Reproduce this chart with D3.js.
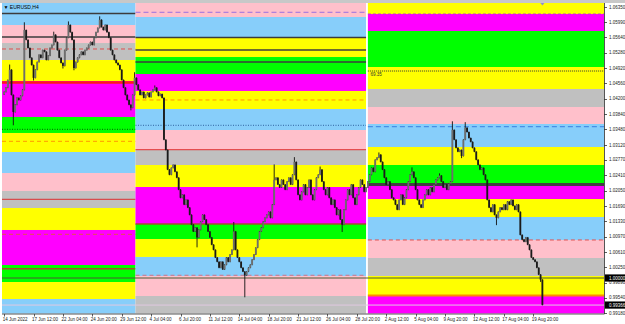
<!DOCTYPE html>
<html>
<head>
<meta charset="utf-8">
<script src="https://cdn.jsdelivr.net/npm/d3@7"></script>
<style>
body{margin:0;background:#fff;}
svg{display:block;font-family:"Liberation Sans",Arial,sans-serif;}
</style>
</head>
<body>
<script>
// EURUSD H4 closes, one per bar
const closes = [
 1.0436,1.0446,1.0464,1.0488,1.0429,1.0389,1.0406,1.0422,1.0417,1.0427,
 1.0441,1.0581,1.0558,1.0539,1.0516,1.0499,1.0469,1.0488,1.0506,1.0523,
 1.0516,1.0534,1.0530,1.0511,1.0521,1.0539,1.0546,1.0570,1.0553,1.0534,
 1.0516,1.0504,1.0497,1.0534,1.0563,1.0593,1.0576,1.0558,1.0492,1.0506,
 1.0516,1.0523,1.0530,1.0523,1.0534,1.0539,1.0546,1.0553,1.0546,1.0563,
 1.0576,1.0586,1.0605,1.0588,1.0581,1.0593,1.0576,1.0563,1.0534,1.0523,
 1.0511,1.0504,1.0499,1.0488,1.0464,1.0446,1.0429,1.0417,1.0406,1.0399,
 1.0429,1.0469,1.0453,1.0441,1.0429,1.0436,1.0422,1.0429,1.0434,1.0424,
 1.0436,1.0441,1.0446,1.0436,1.0427,1.0431,1.0422,1.0324,1.0300,1.0254,
 1.0242,1.0258,1.0265,1.0249,1.0235,1.0207,1.0188,1.0195,1.0172,1.0183,
 1.0165,1.0148,1.0125,1.0109,1.0118,1.0095,1.0113,1.0132,1.0148,1.0137,
 1.0125,1.0109,1.0095,1.0078,1.0066,1.0048,1.0038,1.0024,1.0038,1.0020,
 1.0031,1.0048,1.0038,1.0055,1.0066,1.0109,1.0066,1.0048,1.0038,1.0024,
 1.0015,1.0006,1.0015,1.0024,1.0031,1.0043,1.0055,1.0071,1.0090,1.0109,
 1.0118,1.0132,1.0141,1.0148,1.0155,1.0141,1.0172,1.0230,1.0235,1.0219,
 1.0212,1.0230,1.0219,1.0207,1.0226,1.0235,1.0219,1.0242,1.0272,1.0230,
 1.0195,1.0183,1.0202,1.0219,1.0195,1.0212,1.0230,1.0195,1.0183,1.0207,
 1.0235,1.0242,1.0254,1.0226,1.0207,1.0195,1.0212,1.0188,1.0172,1.0183,
 1.0165,1.0148,1.0160,1.0137,1.0125,1.0160,1.0183,1.0207,1.0195,1.0219,
 1.0188,1.0172,1.0195,1.0212,1.0230,1.0219,1.0202,1.0212,1.0226,1.0242,
 1.0258,1.0249,1.0277,1.0282,1.0289,1.0272,1.0254,1.0235,1.0219,1.0226,
 1.0207,1.0188,1.0183,1.0172,1.0160,1.0183,1.0195,1.0172,1.0188,1.0207,
 1.0226,1.0242,1.0249,1.0235,1.0207,1.0183,1.0172,1.0165,1.0183,1.0195,
 1.0207,1.0195,1.0212,1.0202,1.0219,1.0230,1.0235,1.0240,1.0226,1.0212,
 1.0219,1.0207,1.0221,1.0226,1.0347,1.0324,1.0305,1.0296,1.0300,1.0286,
 1.0324,1.0352,1.0342,1.0328,1.0319,1.0305,1.0296,1.0277,1.0265,1.0254,
 1.0258,1.0242,1.0230,1.0183,1.0165,1.0155,1.0172,1.0148,1.0141,1.0155,
 1.0165,1.0160,1.0172,1.0160,1.0179,1.0172,1.0183,1.0169,1.0160,1.0172,
 1.0155,1.0101,1.0090,1.0085,1.0095,1.0078,1.0066,1.0048,1.0043,1.0038,
 1.0024,1.0008,0.9996,0.9937
];
const firstOpen = 1.0430;

// long wicks [bar, price]
const highWicks = [[3,1.0499],[11,1.0598],[27,1.0576],[35,1.0600],[52,1.0612],[71,1.0481],[82,1.0450],
  [125,1.0130],[147,1.0265],[158,1.0282],[172,1.0260],[204,1.0293],[222,1.0258],[237,1.0244],[244,1.0366],[251,1.0364]];
const lowWicks = [[5,1.0359],[16,1.0464],[32,1.0492],[38,1.0488],[69,1.0394],[105,1.0073],[131,0.9956],
  [184,1.0109],[249,1.0282],[268,1.0125],[292,0.9992]];

const dateLabels = ["14 Jun 2022","17 Jun 12:00","22 Jun 04:00","24 Jun 20:00","29 Jun 12:00","4 Jul 04:00",
  "6 Jul 20:00","11 Jul 12:00","14 Jul 04:00","18 Jul 20:00","21 Jul 12:00","26 Jul 04:00","28 Jul 20:00",
  "2 Aug 12:00","5 Aug 04:00","9 Aug 20:00","12 Aug 12:00","17 Aug 04:00","19 Aug 20:00"];
const barsPerLabel = 16;

const priceTicks = [1.06350,1.05990,1.05640,1.05280,1.04920,1.04560,1.04200,1.03840,1.03480,1.03120,
  1.02770,1.02410,1.02050,1.01690,1.01330,1.00970,1.00610,1.00250,0.99890,0.99540,0.99180];

// zones per month: [top, bottom, kind]
const junBands = [
  [1.0680,1.05928,"sky"],[1.05928,1.05506,"pink"],[1.05506,1.05108,"silver"],[1.05108,1.04616,"yellow"],
  [1.04616,1.03773,"magenta"],[1.03773,1.03398,"green"],[1.03398,1.02952,"yellow"],[1.02952,1.02460,"sky"],
  [1.02460,1.02039,"pink"],[1.02039,1.01640,"silver"],[1.01640,1.01125,"yellow"],[1.01125,1.00305,"magenta"],
  [1.00305,0.99906,"green"],[0.99906,0.99508,"yellow"],[0.99508,0.9890,"sky"]
];
const julBands = [
  [1.0680,1.06116,"pink"],[1.06116,1.05635,"sky"],[1.05635,1.05178,"yellow"],[1.05178,1.04780,"green"],
  [1.04780,1.04382,"magenta"],[1.04382,1.03960,"yellow"],[1.03960,1.03468,"sky"],[1.03468,1.02999,"pink"],
  [1.02999,1.02648,"silver"],[1.02648,1.02132,"yellow"],[1.02132,1.01265,"magenta"],[1.01265,1.00914,"green"],
  [1.00914,1.00493,"yellow"],[1.00493,1.00047,"sky"],[1.00047,0.99578,"pink"],[0.99578,0.9890,"silver"]
];
const augBands = [
  [1.0680,1.06186,"yellow"],[1.06186,1.05788,"magenta"],[1.05788,1.04944,"green"],[1.04944,1.04429,"yellow"],
  [1.04429,1.04007,"silver"],[1.04007,1.03609,"pink"],[1.03609,1.03070,"sky"],[1.03070,1.02648,"yellow"],
  [1.02648,1.02191,"green"],[1.02191,1.01851,"magenta"],[1.01851,1.01429,"yellow"],[1.01429,1.00891,"sky"],
  [1.00891,1.00469,"pink"],[1.00469,1.00047,"silver"],[1.00047,0.99578,"yellow"],[0.99578,0.9890,"magenta"]
];

// horizontal levels per month: [price, kind]
const junLines = [[1.06198,"dark"],[1.05647,"dark"],[1.05366,"redDash"],[1.04581,"redThick"],[1.03484,"greenDot"],
  [1.03203,"orangeDash"],[1.01844,"red"],[1.01024,"redDash"],[1.00218,"brown"]];
const julLines = [[1.06226,"purpleDash"],[1.05635,"dark"],[1.05342,"dark"],[1.05061,"dark"],[1.04171,"orangeDash"],
  [1.03578,"blueDot"],[1.03006,"red"],[1.01265,"brown"],[1.00064,"pinkDash"]];
const augLines = [[1.06186,"magentaDash"],[1.04850,"blackDot"],[1.03545,"blueDash"],[1.02191,"darkThick"],
  [1.00891,"redDash"],[0.99590,"orangeThick"]];

// month start bars: Jul at 72, Aug at 198
const monthStart = [0, 72, 198];
const levelPrice = 1.00000;
const bidPrice = 0.99366;
const augLevelText = "69.35";

const W = 625, H = 324;
const plotL = 2, plotR = 604, plotT = 3, plotB = 313.5;

const zoneColor = {sky:"#87cefa", pink:"#ffc0cb", silver:"#c0c0c0", yellow:"#ffff00", magenta:"#ff00ff", green:"#00ff00"};
const lineStyle = {
  dark:{c:"#3c3c3c", w:1.5}, redDash:{c:"#e05050", w:1, d:"4,3"}, redThick:{c:"#ff1a1a", w:2.5},
  greenDot:{c:"#006400", w:1, d:"1,1.5"}, orangeDash:{c:"#ff9900", w:1, d:"4,3"}, red:{c:"#dd3030", w:1},
  brown:{c:"#a0502a", w:1.5}, purpleDash:{c:"#9b70e0", w:1, d:"5,3"}, blueDot:{c:"#3060a0", w:1, d:"1,1.5"},
  pinkDash:{c:"#d87080", w:1, d:"4,3"}, magentaDash:{c:"#c040c0", w:1.2, d:"3,2"}, blackDot:{c:"#333", w:1, d:"1,1"},
  blueDash:{c:"#3a7ee0", w:1, d:"5,3"}, darkThick:{c:"#404040", w:3}, orangeThick:{c:"#ff8c00", w:2}
};

const x = d3.scaleLinear().domain([0, 293]).range([4.15, 542.4]);
const y = d3.scaleLinear().domain([0.99180, 1.06350]).range([313, 7]);

const svg = d3.select("body").append("svg").attr("width", W).attr("height", H);
svg.append("rect").attr("width", W).attr("height", H).attr("fill", "#fff");
svg.append("rect").attr("x", 0).attr("y", 0).attr("width", W).attr("height", plotT).attr("fill", "#c8c8c8");

svg.append("clipPath").attr("id", "plot").append("rect")
  .attr("x", plotL).attr("y", plotT).attr("width", plotR - plotL).attr("height", plotB - plotT);
const g = svg.append("g").attr("clip-path", "url(#plot)");

const sections = [
  {bands: junBands, lines: junLines, x0: plotL, x1: x(monthStart[1] - 0.5)},
  {bands: julBands, lines: julLines, x0: x(monthStart[1] - 0.5), x1: x(monthStart[2] - 1)},
  {bands: augBands, lines: augLines, x0: x(monthStart[2]), x1: plotR}
];

sections.forEach(s => {
  g.append("g").selectAll("rect").data(s.bands).join("rect")
    .attr("x", s.x0).attr("width", s.x1 - s.x0)
    .attr("y", d => y(d[0])).attr("height", d => y(d[1]) - y(d[0]))
    .attr("fill", d => zoneColor[d[2]]);
  g.append("g").selectAll("line").data(s.lines).join("line")
    .attr("x1", s.x0).attr("x2", s.x1)
    .attr("y1", d => y(d[0])).attr("y2", d => y(d[0]))
    .attr("stroke", d => lineStyle[d[1]].c)
    .attr("stroke-width", d => lineStyle[d[1]].w)
    .attr("stroke-dasharray", d => lineStyle[d[1]].d || null);
});

// whole-chart levels
g.append("line").attr("x1", plotL).attr("x2", plotR).attr("y1", y(levelPrice)).attr("y2", y(levelPrice))
  .attr("stroke", "#4d5a35").attr("stroke-width", 1);
g.append("line").attr("x1", plotL).attr("x2", plotR).attr("y1", y(bidPrice)).attr("y2", y(bidPrice))
  .attr("stroke", "#e0c8e0").attr("stroke-width", 1);

g.append("text").attr("x", x(monthStart[2]) + 2.5).attr("y", y(1.04850) + 5.2)
  .attr("font-size", 4.6).attr("fill", "#333").text(augLevelText);

// candles
const hiMap = new Map(highWicks), loMap = new Map(lowWicks);
const candles = closes.map((c, i) => {
  const o = i ? closes[i - 1] : firstOpen;
  let hi = Math.max(o, c), lo = Math.min(o, c);
  if (hiMap.has(i)) hi = Math.max(hi, hiMap.get(i));
  if (loMap.has(i)) lo = Math.min(lo, loMap.get(i));
  return {i, o, c, hi, lo};
});
const cg = g.append("g");
cg.selectAll("line").data(candles).join("line")
  .attr("x1", d => x(d.i)).attr("x2", d => x(d.i))
  .attr("y1", d => y(d.hi) - 0.5).attr("y2", d => y(d.lo) + 0.5)
  .attr("stroke", "#111").attr("stroke-width", 0.9);
cg.selectAll("rect").data(candles).join("rect")
  .attr("x", d => x(d.i) - 0.9).attr("width", 1.8)
  .attr("y", d => y(Math.max(d.o, d.c)))
  .attr("height", d => Math.max(0.8, y(Math.min(d.o, d.c)) - y(Math.max(d.o, d.c))))
  .attr("fill", d => d.c >= d.o ? "#6e6e6e" : "#1a1a1a");

// shift marker
svg.append("path").attr("d", `M${x(293) - 2},${plotT} h4 l-2,2.5z`).attr("fill", "#9090c8");

// frame
svg.append("line").attr("x1", plotL).attr("x2", plotR + 0.5).attr("y1", plotB + 0.5).attr("y2", plotB + 0.5)
  .attr("stroke", "#555").attr("stroke-width", 1);
svg.append("line").attr("x1", plotR + 0.5).attr("x2", plotR + 0.5).attr("y1", plotT).attr("y2", plotB + 0.5)
  .attr("stroke", "#555").attr("stroke-width", 1);

// title
svg.append("text").attr("x", 3.5).attr("y", 8.5).attr("font-size", 5).attr("fill", "#000").text("\u25BC EURUSD,H4");

// price axis
const pa = svg.append("g");
pa.selectAll("line").data(priceTicks).join("line")
  .attr("x1", plotR).attr("x2", plotR + 3).attr("y1", d => Math.round(y(d)) + 0.5).attr("y2", d => Math.round(y(d)) + 0.5)
  .attr("stroke", "#333").attr("stroke-width", 0.8);
pa.selectAll("text").data(priceTicks).join("text")
  .attr("x", plotR + 5).attr("y", d => y(d) + 1.7)
  .attr("font-size", 4.5).attr("fill", "#222").text(d => d.toFixed(5));

[levelPrice, bidPrice].forEach(p => {
  pa.append("rect").attr("x", plotR + 1).attr("y", y(p) - 3.6).attr("width", 20).attr("height", 7.2).attr("fill", "#000");
  pa.append("text").attr("x", plotR + 5).attr("y", y(p) + 1.7).attr("font-size", 4.5).attr("fill", "#fff").text(p.toFixed(5));
});

// time axis
const ta = svg.append("g");
ta.selectAll("line").data(dateLabels).join("line")
  .attr("x1", (d, k) => Math.round(x(k * barsPerLabel)) + 0.5).attr("x2", (d, k) => Math.round(x(k * barsPerLabel)) + 0.5)
  .attr("y1", plotB + 0.5).attr("y2", plotB + 3)
  .attr("stroke", "#333").attr("stroke-width", 0.8);
ta.selectAll("text").data(dateLabels).join("text")
  .attr("x", (d, k) => x(k * barsPerLabel) - 1.5).attr("y", 320.5)
  .attr("font-size", 4.5).attr("fill", "#222").text(d => d);
</script>
</body>
</html>
